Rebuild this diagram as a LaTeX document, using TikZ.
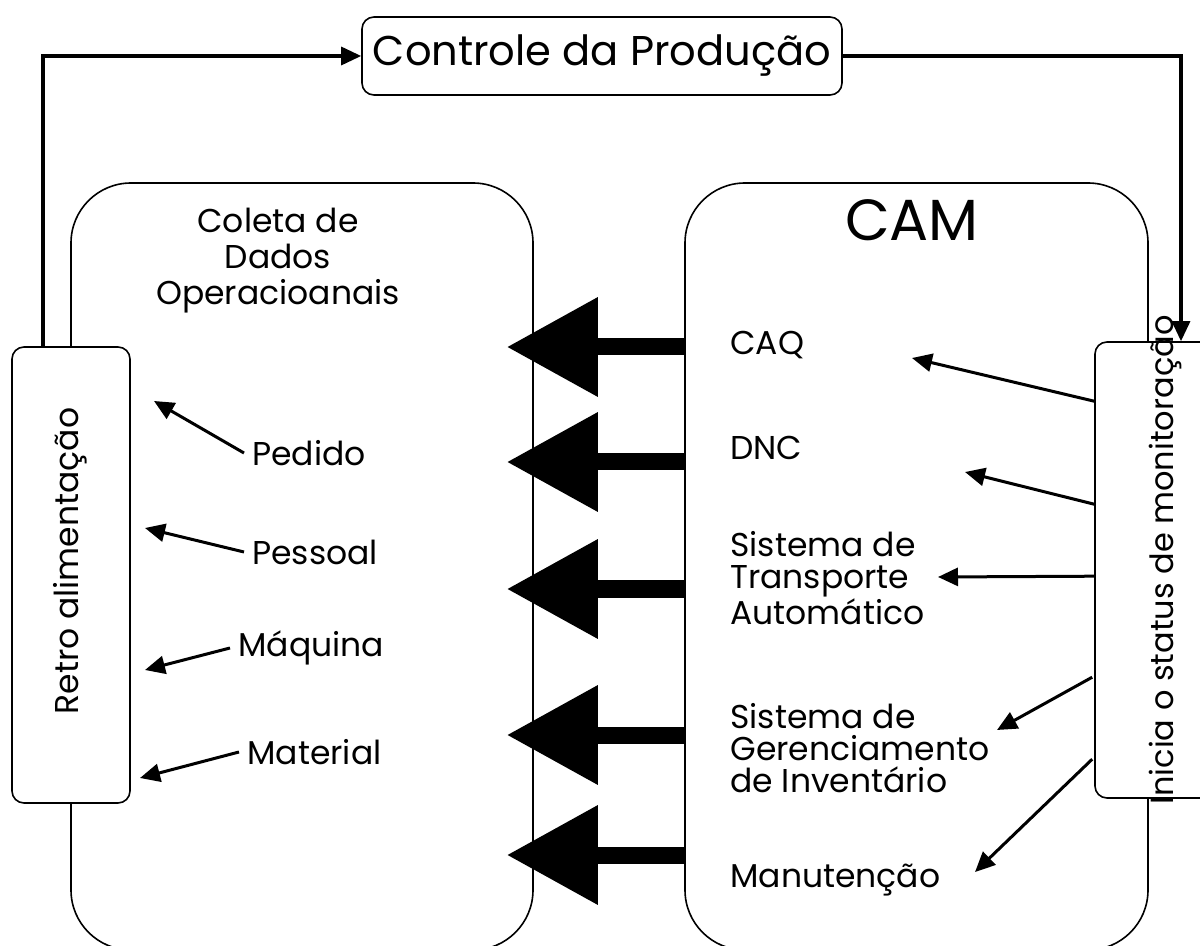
\documentclass[tikz,border=0pt]{standalone}
\usepackage{fontspec}
\setmainfont{Poppins}
\usetikzlibrary{positioning,arrows.meta,calc}

\tikzset{
  box/.style={draw, line width=0.8pt, rounded corners=6pt, fill=white, inner sep=0pt},
  bigbox/.style={draw, line width=0.8pt, rounded corners=30pt, inner sep=0pt},
  lbl/.style={font=\fontsize{16.5}{16}\selectfont, inner sep=4pt},
  link/.style={line width=1.6pt, -{Triangle[length=10pt,width=9pt]}},
  feed/.style={line width=1.5pt, -{Triangle[length=10pt,width=9pt]}},
  flow/.style={line width=8.5pt, -{Triangle[length=45.5pt,width=47.5pt]}},
}

\begin{document}
\begin{tikzpicture}[x=0.5pt,y=-0.5pt]
\useasboundingbox (0,0) rectangle (1200,946);

% ======================================
% THE TWO BIG BLOCKS
% ======================================
\node[bigbox, minimum width=231pt, minimum height=383.5pt] (col) at (302,566.5) {};
\node[bigbox, minimum width=231.5pt, minimum height=383.5pt] (cam) at (916.5,566.5) {};

\node[lbl, align=center, font=\fontsize{16.5}{18}\selectfont] (coltxt) at (278,261) {Coleta de\\Dados\\Operacioanais};
\node[font=\fontsize{29}{32}\selectfont] (camtxt) at (912,220) {CAM};

% ======================================
% CONTROL LOOP
% ======================================
\node[box, minimum width=240pt, minimum height=39pt, font=\fontsize{20.8}{24}\selectfont] (ctrl) at (602,56) {Controle da Produção};
\node[box, minimum width=59pt, minimum height=228pt] (retro) at (71,575) {};
\node[lbl, rotate=90] (retrotxt) at (70,561) {Retro alimentação};
\node[box, minimum width=86pt, minimum height=228pt] (ini) at (1181,570) {};
\node[lbl, rotate=90, font=\fontsize{16}{16}\selectfont] (initxt) at (1165,560) {Inicia o status de monitoração};

\draw[link] ($(retro.north)+(-28,0)$) |- (ctrl.west);
\draw[link] (ctrl.east) -| (ini.north);

% ======================================
% CAM SUBSYSTEMS
% ======================================
\node[lbl, anchor=west] (caq) at (722,345) {CAQ};
\node[lbl, anchor=west] (dnc) at (722,448) {DNC};
\node[lbl, anchor=west, align=left] (sta) at (722,578) {Sistema de\\Transporte\\Automático};
\node[lbl, anchor=west, align=left] (sgi) at (722,748) {Sistema de\\Gerenciamento\\de Inventário};
\node[lbl, anchor=west] (man) at (722,880) {Manutenção};

\foreach \y [count=\i] in {347,462,589,735,855}
  \coordinate (lvl\i) at (0,\y);
\foreach \i in {1,...,5}
  \draw[flow, shorten >=-13.5pt] (cam.west |- lvl\i) -- (col.east |- lvl\i);

\coordinate (caqtip) at (912,358);
\coordinate (dnctip) at (965,472);
\coordinate (statip) at (938,577);
\coordinate (sgitip) at (997,730);
\coordinate (mantip) at (975,872);
\draw[feed] ($(ini.north west)+(0,60)$) -- (caqtip);
\draw[feed] ($(ini.north west)+(0,163)$) -- (dnctip);
\draw[feed] ($(ini.north west)+(0,235)$) -- (statip);
\draw[feed] ($(ini.north west)+(-2,336)$) -- (sgitip);
\draw[feed] ($(ini.north west)+(-2,418)$) -- (mantip);

% ======================================
% OPERATIONAL DATA
% ======================================
\node[lbl, anchor=west] (ped) at (244,453) {Pedido};
\node[lbl, anchor=west] (pes) at (244,552) {Pessoal};
\node[lbl, anchor=west] (maq) at (230,648) {Máquina};
\node[lbl, anchor=west] (mat) at (239,752) {Material};

\coordinate (pedtip) at (154,401);
\coordinate (pestip) at (145,528);
\coordinate (maqtip) at (145,670);
\coordinate (mattip) at (140,778);
\draw[feed] (ped.west) -- (pedtip);
\draw[feed] (pes.west) -- (pestip);
\draw[feed] (maq.west) -- (maqtip);
\draw[feed] (mat.west) -- (mattip);

\end{tikzpicture}
\end{document}
